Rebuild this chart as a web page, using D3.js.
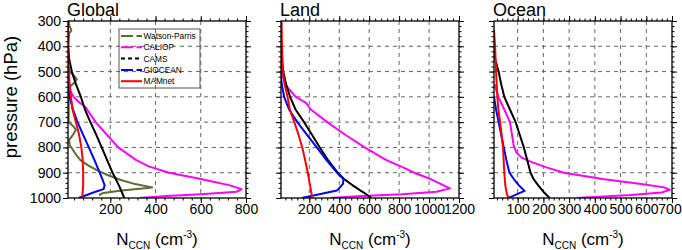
<!DOCTYPE html>
<html>
<head>
<meta charset="utf-8">
<script src="https://cdn.jsdelivr.net/npm/d3@7"></script>
<style>
body { margin: 0; background: #fff; }
svg { font-family: "Liberation Sans", Arial, sans-serif; }
</style>
</head>
<body>
<svg id="chart" width="682" height="250"></svg>
<script>
// vertical profiles: [pressure (hPa), N_CCN (cm^-3)]
const pressureTicks = [300, 400, 500, 600, 700, 800, 900, 1000];
const seriesNames = ["Watson-Parris", "CALIOP", "CAMS", "GIOCEAN", "MAMnet"];

// Global
const globalWP = [[300,15],[320,20],[336,28],[350,18],[400,14],[480,14],[500,20],[515,38],[530,52],[545,40],[560,20],[600,16],[700,16],[715,35],[730,48],[750,35],[770,18],[790,20],[810,35],[830,50],[850,68],[870,100],[890,140],[910,190],[930,250],[945,310],[958,385],[970,250],[980,170],[988,150]];
const globalCALIOP = [[505,13],[550,18],[580,25],[600,38],[620,60],[640,90],[660,105],[700,135],[750,185],[800,235],[850,315],[875,370],[900,460],[925,600],[950,730],[965,780],[975,760],[985,600],[992,450],[1000,330]];
const globalCAMS = [[300,12],[400,14],[450,18],[500,30],[550,48],[600,70],[650,88],[700,112],[750,138],[800,162],[850,186],[900,210],[925,224],[950,238],[975,250],[1000,262]];
const globalGIOCEAN = [[545,13],[600,20],[650,35],[700,55],[750,80],[800,105],[850,130],[900,153],[925,165],[950,175],[965,170],[975,135],[985,105],[1000,60]];
const globalMAMnet = [[300,12],[400,13],[450,14],[500,17],[550,20],[600,26],[650,33],[700,48],[750,62],[800,72],[850,78],[900,80],[950,80],[1000,76]];

// Land
const landCALIOP = [[470,10],[520,25],[560,50],[600,110],[625,180],[650,210],[700,320],[750,440],[800,570],[850,715],[880,830],[900,900],[925,1010],[945,1080],[962,1140],[975,1050],[985,820],[993,520],[1000,340]];
const landCAMS = [[375,10],[450,16],[500,26],[550,45],[600,72],[650,108],[700,165],[750,218],[800,270],[850,325],[900,390],[925,432],[950,490],[970,540],[985,580],[1000,615]];
const landGIOCEAN = [[500,10],[550,16],[600,32],[650,65],[700,120],[750,185],[800,250],[850,315],[900,385],[925,428],[944,425],[958,405],[970,385],[1000,150]];
const landMAMnet = [[300,15],[400,17],[500,24],[550,35],[600,55],[650,70],[700,100],[750,128],[800,153],[850,172],[900,190],[950,205],[1000,220]];

// Ocean
const oceanCALIOP = [[550,10],[600,25],[650,48],[700,70],[750,78],[790,84],[820,95],[840,115],[860,160],[880,215],[900,280],[925,430],[945,580],[958,670],[968,692],[978,660],[988,540],[1000,330]];
const oceanCAMS = [[400,8],[450,12],[500,26],[550,36],[600,48],[650,70],[700,92],[750,108],[800,124],[850,137],[900,150],[925,162],[950,180],[975,200],[1000,224]];
const oceanGIOCEAN = [[600,8],[650,16],[700,26],[750,36],[800,46],[850,56],[900,68],[925,85],[950,105],[972,127],[985,98],[1000,63]];
const oceanMAMnet = [[335,8],[400,12],[500,16],[600,21],[650,25],[700,32],[800,43],[900,48],[950,52],[985,58],[1000,65]];

const colors = {
  "Watson-Parris": "#5a6e33",
  "CALIOP": "#ff00ff",
  "CAMS": "#000000",
  "GIOCEAN": "#0000ff",
  "MAMnet": "#ff0000"
};
const legendDash = {
  "Watson-Parris": "12,3.5,6",
  "CALIOP": "12,3.5,6",
  "CAMS": "4,3",
  "GIOCEAN": "12,3.5,6",
  "MAMnet": null
};

const panels = [
  { title: "Global", left: 68, xDomain: [13, 800], xTicks: [200, 400, 600, 800], minor: 40, legend: true,
    series: { "Watson-Parris": globalWP, "CALIOP": globalCALIOP, "CAMS": globalCAMS, "GIOCEAN": globalGIOCEAN, "MAMnet": globalMAMnet } },
  { title: "Land", left: 281, xDomain: [11, 1200], xTicks: [200, 400, 600, 800, 1000, 1200], minor: 40,
    series: { "CALIOP": landCALIOP, "CAMS": landCAMS, "GIOCEAN": landGIOCEAN, "MAMnet": landMAMnet } },
  { title: "Ocean", left: 494, xDomain: [8, 700], xTicks: [100, 200, 300, 400, 500, 600, 700], minor: 20,
    series: { "CALIOP": oceanCALIOP, "CAMS": oceanCAMS, "GIOCEAN": oceanGIOCEAN, "MAMnet": oceanMAMnet } }
];

const plotTop = 21, plotH = 177, plotW = 178;
const svg = d3.select("#chart");

const y = d3.scaleLinear().domain([300, 1000]).range([plotTop, plotTop + plotH]);
const yMinor = d3.range(300, 1001, 20);

panels.forEach((p, pi) => {
  const x = d3.scaleLinear().domain(p.xDomain).range([p.left, p.left + plotW]);
  const xMinor = d3.range(0, p.xDomain[1] + 1, p.minor).filter(v => v >= p.xDomain[0]);
  const g = svg.append("g");

  // grid
  g.selectAll(".gx").data(p.xTicks.filter(v => v < p.xDomain[1]))
    .enter().append("line")
    .attr("x1", d => x(d)).attr("x2", d => x(d))
    .attr("y1", plotTop).attr("y2", plotTop + plotH)
    .attr("stroke", "#555").attr("stroke-width", 0.9).attr("stroke-dasharray", "4,4");
  g.selectAll(".gy").data(pressureTicks.slice(1, -1))
    .enter().append("line")
    .attr("x1", p.left).attr("x2", p.left + plotW)
    .attr("y1", d => y(d)).attr("y2", d => y(d))
    .attr("stroke", "#555").attr("stroke-width", 0.9).attr("stroke-dasharray", "4,4");

  // curves
  const clipId = "clip" + pi;
  svg.append("clipPath").attr("id", clipId).append("rect")
    .attr("x", p.left).attr("y", plotTop).attr("width", plotW).attr("height", plotH);
  const line = d3.line().x(d => x(d[1])).y(d => y(d[0]));
  Object.keys(p.series).forEach(name => {
    g.append("path")
      .datum(p.series[name])
      .attr("clip-path", "url(#" + clipId + ")")
      .attr("d", line)
      .attr("fill", "none")
      .attr("stroke", colors[name])
      .attr("stroke-width", 2)
      .attr("stroke-linejoin", "round");
  });

  // axes (ticks outward on all four sides)
  const fmt = pi === 0 ? d3.format("d") : () => "";
  const axes = [
    [d3.axisBottom(x).tickValues(p.xTicks).tickFormat(d3.format("d")), `translate(0,${plotTop + plotH})`, d3.axisBottom(x).tickValues(xMinor)],
    [d3.axisTop(x).tickValues(p.xTicks).tickFormat(""), `translate(0,${plotTop})`, d3.axisTop(x).tickValues(xMinor)],
    [d3.axisLeft(y).tickValues(pressureTicks).tickFormat(fmt), `translate(${p.left},0)`, d3.axisLeft(y).tickValues(yMinor)],
    [d3.axisRight(y).tickValues(pressureTicks).tickFormat(""), `translate(${p.left + plotW},0)`, d3.axisRight(y).tickValues(yMinor)]
  ];
  axes.forEach(([major, tr, minor], ai) => {
    const ag = g.append("g").attr("transform", tr)
      .call(major.tickSizeInner(5).tickSizeOuter(0).tickPadding(ai === 0 ? 1.5 : 2));
    ag.select(".domain").remove();
    ag.selectAll("text").attr("font-size", "14px").attr("font-family", "Liberation Sans, Arial, sans-serif").attr("fill", "#000");
    const mg = g.append("g").attr("transform", tr)
      .call(minor.tickSizeInner(2.5).tickSizeOuter(0).tickFormat(""));
    mg.select(".domain").remove();
  });
  // keep the last bottom label of the rightmost panel inside the page
  if (pi === panels.length - 1) {
    g.selectAll("text").filter(function () { return this.textContent === "700"; }).attr("dx", -2.5);
  }

  g.append("rect")
    .attr("x", p.left).attr("y", plotTop).attr("width", plotW).attr("height", plotH)
    .attr("fill", "none").attr("stroke", "#000").attr("stroke-width", 1.3);

  // title
  g.append("text").attr("x", p.left - 1).attr("y", 15.5)
    .attr("font-size", "18px").text(p.title);

  // x axis title
  const xt = g.append("text").attr("x", p.left + plotW / 2).attr("y", 245)
    .attr("text-anchor", "middle").attr("font-size", "17px");
  xt.append("tspan").text("N");
  xt.append("tspan").attr("font-size", "10px").attr("dy", 4).text("CCN");
  xt.append("tspan").attr("dy", -4).text(" (cm");
  xt.append("tspan").attr("font-size", "10px").attr("dy", -7).text("-3");
  xt.append("tspan").attr("dy", 7).text(")");

  if (p.legend) {
    const lg = g.append("g");
    lg.append("rect").attr("x", 119).attr("y", 29).attr("width", 81).attr("height", 59)
      .attr("fill", "none").attr("stroke", "#555").attr("stroke-width", 1);
    seriesNames.forEach((name, i) => {
      const ly = 36 + i * 11.3;
      lg.append("line").attr("x1", 121).attr("x2", 142).attr("y1", ly).attr("y2", ly)
        .attr("stroke", colors[name]).attr("stroke-width", 2)
        .attr("stroke-dasharray", legendDash[name]);
      lg.append("text").attr("x", 143.5).attr("y", ly).attr("dy", "0.35em")
        .attr("font-size", "8.3px").text(name);
    });
  }
});

// y axis title
svg.append("text")
  .attr("transform", "translate(17,97) rotate(-90)")
  .attr("text-anchor", "middle").attr("font-size", "18.5px")
  .text("pressure (hPa)");
</script>
</body>
</html>
